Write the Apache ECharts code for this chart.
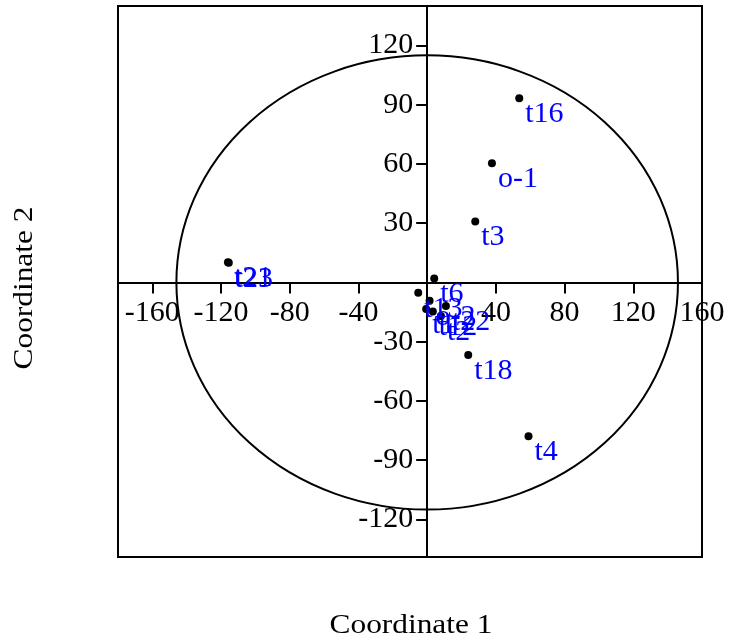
<!DOCTYPE html>
<html>
<head>
    <meta charset="utf-8">
    <title>Coordinate plot</title>
    <script src="https://cdn.jsdelivr.net/npm/echarts@6/dist/echarts.min.js"></script>
    <style type="text/css">
        * { margin: 0; padding: 0; }
        #main { width: 733px; height: 642px; background: #fff; }
    </style>
</head>
<body>
<div id="main"></div>
<script type="text/javascript">
    // point names and coordinates
    var names = ['t16', 'o-1', 't3', 't21', 't23', 't6', 't13', 'o-2', 't1', 't12', 't22', 't2', 't18', 't4'];
    var coord1 = [53.6, 37.7, 28.0, -116.0, -115.5, 4.1, -5.2, 1.4, -0.6, 3.3, 10.9, 8.0, 23.9, 59.0];
    var coord2 = [93.3, 60.4, 30.9, 10.2, 10.0, 2.0, -5.2, -9.3, -13.4, -14.7, -11.9, -17.0, -36.7, -77.8];

    // ticks
    var xTicks = [-160, -120, -80, -40, 0, 40, 80, 120, 160];
    var xLabels = [-160, -120, -80, -40, 40, 80, 120, 160];
    var yTicks = [-120, -90, -60, -30, 0, 30, 60, 90, 120];
    var yLabels = [-120, -90, -60, -30, 30, 60, 90, 120];

    // confidence ellipse (semi axes, in data units)
    var ellipseAxes = [146, 115];

    var font = 'Liberation Serif';
    var gridLeft = 118, gridTop = 6, gridW = 584, gridH = 551;

    var points = [];
    for (var i = 0; i < names.length; i++) {
        points.push({ name: names[i], value: [coord1[i], coord2[i]] });
    }

    var myChart = echarts.init(document.getElementById('main'));

    var option = {
        animation: false,
        grid: {
            left: gridLeft, top: gridTop, width: gridW, height: gridH,
            show: true,
            borderColor: '#000',
            borderWidth: 2,
            backgroundColor: 'transparent'
        },
        xAxis: {
            type: 'value',
            min: -180,
            max: 160,
            offset: 0,
            axisLine: { onZero: false, lineStyle: { color: '#000', width: 2 } },
            axisTick: { show: true, length: 11, customValues: xTicks, lineStyle: { color: '#000', width: 2 } },
            axisLabel: { customValues: xLabels, margin: 16, color: '#000', fontFamily: font, fontSize: 30 },
            splitLine: { show: false }
        },
        yAxis: {
            type: 'value',
            min: -139,
            max: 140,
            offset: 0,
            axisLine: { onZero: false, lineStyle: { color: '#000', width: 2 } },
            axisTick: { show: true, length: 11, customValues: yTicks, lineStyle: { color: '#000', width: 2 } },
            axisLabel: { customValues: yLabels, margin: 14, color: '#000', fontFamily: font, fontSize: 30 },
            splitLine: { show: false }
        },
        graphic: [
            {
                type: 'text', x: 411, y: 612, scaleX: 1.12,
                style: { text: 'Coordinate 1', fill: '#000', font: '28px "' + font + '"', align: 'center', verticalAlign: 'top' }
            },
            {
                type: 'text', x: 11, y: 288, rotation: Math.PI / 2, scaleX: 1.12,
                style: { text: 'Coordinate 2', fill: '#000', font: '28px "' + font + '"', align: 'center', verticalAlign: 'top' }
            }
        ],
        series: [
            {
                type: 'custom',
                silent: true,
                data: [[0, 0]],
                renderItem: function (params, api) {
                    var c = api.coord([api.value(0), api.value(1)]);
                    var s = api.size(ellipseAxes);
                    var rx = s[0], ry = s[1];
                    var d = 'M' + (c[0] - rx) + ' ' + c[1] +
                        'A' + rx + ' ' + ry + ' 0 1 0 ' + (c[0] + rx) + ' ' + c[1] +
                        'A' + rx + ' ' + ry + ' 0 1 0 ' + (c[0] - rx) + ' ' + c[1] + 'Z';
                    return {
                        type: 'path',
                        shape: { pathData: d },
                        style: { fill: 'none', stroke: '#000', lineWidth: 2 }
                    };
                }
            },
            {
                type: 'scatter',
                symbolSize: 8,
                itemStyle: { color: '#000', opacity: 1 },
                label: {
                    show: true,
                    position: [10, 5],
                    formatter: '{b}',
                    color: '#0000ff',
                    fontFamily: font,
                    fontSize: 30,
                    align: 'left',
                    verticalAlign: 'top'
                },
                data: points
            }
        ]
    };

    myChart.setOption(option);

    // move both axes onto the origin, keeping their labels with them
    var origin = myChart.convertToPixel({ gridIndex: 0 }, [0, 0]);
    myChart.setOption({
        xAxis: { offset: -(gridTop + gridH - origin[1]) },
        yAxis: { offset: -(origin[0] - gridLeft) }
    });
</script>
</body>
</html>
